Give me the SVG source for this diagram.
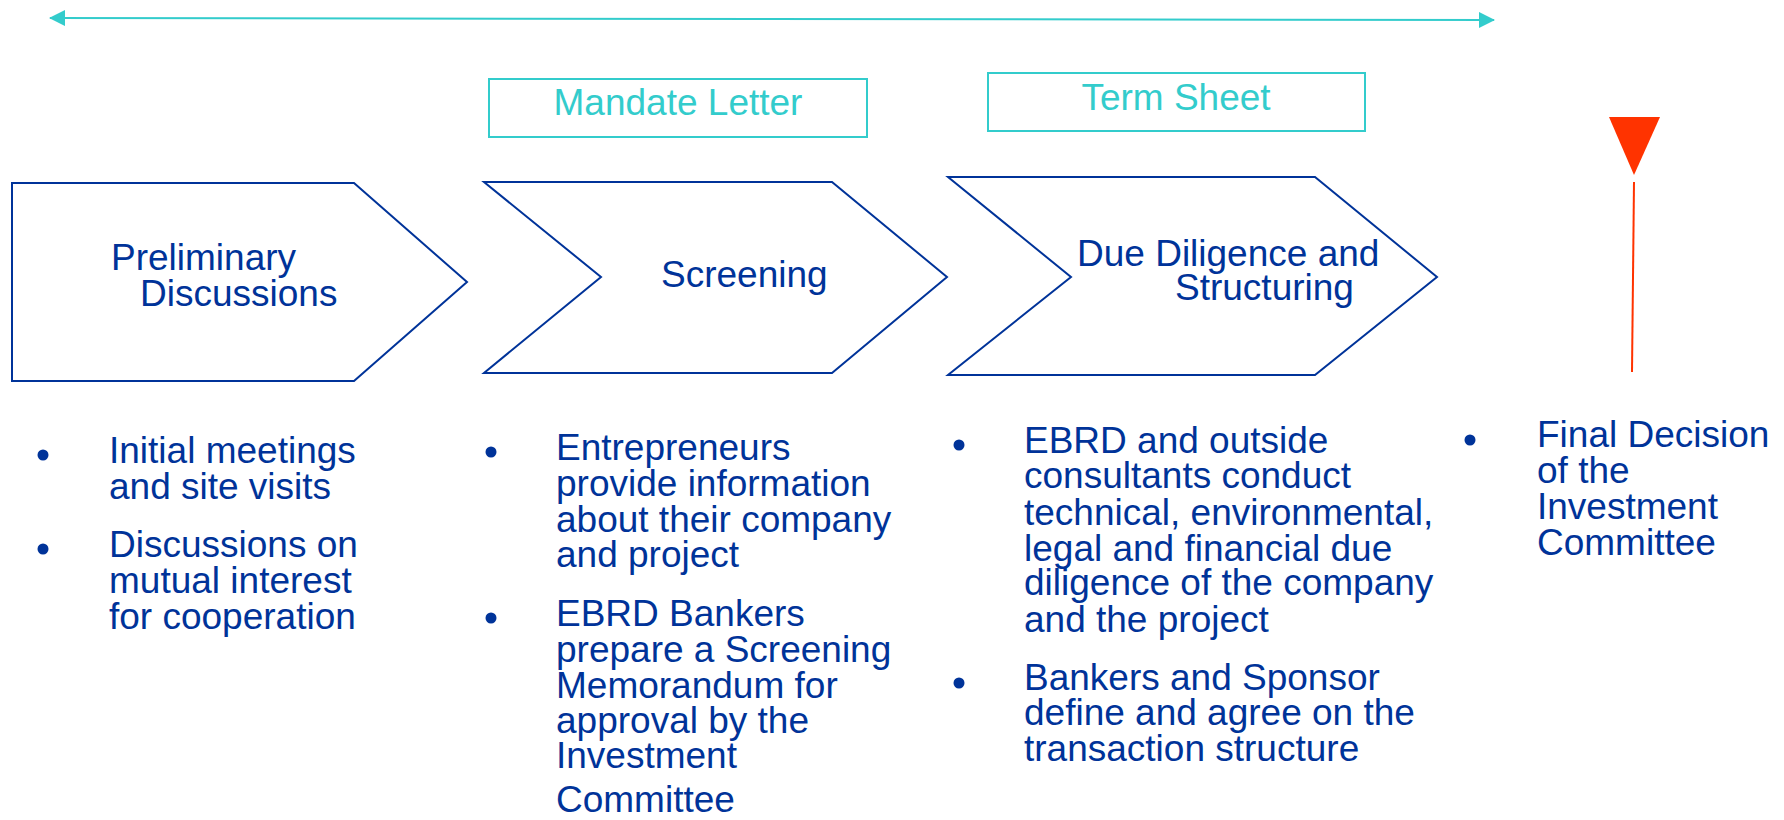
<svg xmlns="http://www.w3.org/2000/svg" width="1784" height="820" viewBox="0 0 1784 820">
<style>
.chev{fill:#FFFFFF;stroke:#003399;stroke-width:2}
.doc{fill:#FFFFFF;stroke:#33CCCC;stroke-width:2}
.t{font-family:"Liberation Sans",Arial,sans-serif;font-size:37px;fill:#003399}
.tl{font-family:"Liberation Sans",Arial,sans-serif;font-size:37px;fill:#33CCCC;text-anchor:middle}
.dot{fill:#003399}
</style>
<defs>
<marker id="ah" viewBox="0 0 16 16" refX="15" refY="8" markerWidth="16" markerHeight="16" markerUnits="userSpaceOnUse" orient="auto-start-reverse">
<path d="M0,0 L16,8 L0,16 Z" fill="#33CCCC"/>
</marker>
</defs>
<g id="connectors">
<line x1="50" y1="18" x2="1494" y2="20" stroke="#33CCCC" stroke-width="2" marker-start="url(#ah)" marker-end="url(#ah)"/>
<line x1="1634" y1="182" x2="1632" y2="372" stroke="#FF3300" stroke-width="2"/>
</g>
<g id="mandate-letter">
<rect class="doc" x="489" y="79" width="378" height="58"/>
<text class="tl" x="678" y="115">Mandate Letter</text>
</g>
<g id="term-sheet">
<rect class="doc" x="988" y="73" width="377" height="58"/>
<text class="tl" x="1176" y="110">Term Sheet</text>
</g>
<g id="preliminary">
<polygon class="chev" points="12,183 354,183 467,282 354,381 12,381"/>
<text class="t" x="111" y="270">Preliminary</text>
<text class="t" x="140" y="306">Discussions</text>
</g>
<g id="screening">
<polygon class="chev" points="484,182 832,182 947,277 832,373 484,373 601,277"/>
<text class="t" x="661" y="287">Screening</text>
</g>
<g id="due-diligence">
<polygon class="chev" points="948,177 1315,177 1437,277 1315,375 948,375 1071,277"/>
<text class="t" x="1077" y="266">Due Diligence and</text>
<text class="t" x="1175" y="300">Structuring</text>
</g>
<g id="final-decision-marker">
<polygon points="1609,117 1660,117 1634,175" fill="#FF3300"/>
</g>
<g id="list-preliminary">
<circle class="dot" cx="43" cy="455" r="5.5"/>
<text class="t" x="109" y="463">Initial meetings</text>
<text class="t" x="109" y="499">and site visits</text>
<circle class="dot" cx="43" cy="549" r="5.5"/>
<text class="t" x="109" y="557">Discussions on</text>
<text class="t" x="109" y="593">mutual interest</text>
<text class="t" x="109" y="629">for cooperation</text>
</g>
<g id="list-screening">
<circle class="dot" cx="491" cy="452" r="5.5"/>
<text class="t" x="556" y="460">Entrepreneurs</text>
<text class="t" x="556" y="496">provide information</text>
<text class="t" x="556" y="532">about their company</text>
<text class="t" x="556" y="567">and project</text>
<circle class="dot" cx="491" cy="618" r="5.5"/>
<text class="t" x="556" y="626">EBRD Bankers</text>
<text class="t" x="556" y="662">prepare a Screening</text>
<text class="t" x="556" y="698">Memorandum for</text>
<text class="t" x="556" y="733">approval by the</text>
<text class="t" x="556" y="768">Investment</text>
<text class="t" x="556" y="812">Committee</text>
</g>
<g id="list-due-diligence">
<circle class="dot" cx="959" cy="445" r="5.5"/>
<text class="t" x="1024" y="453">EBRD and outside</text>
<text class="t" x="1024" y="488">consultants conduct</text>
<text class="t" x="1024" y="525">technical, environmental,</text>
<text class="t" x="1024" y="561">legal and financial due</text>
<text class="t" x="1024" y="595">diligence of the company</text>
<text class="t" x="1024" y="632">and the project</text>
<circle class="dot" cx="959" cy="683" r="5.5"/>
<text class="t" x="1024" y="690">Bankers and Sponsor</text>
<text class="t" x="1024" y="725">define and agree on the</text>
<text class="t" x="1024" y="761">transaction structure</text>
</g>
<g id="list-final">
<circle class="dot" cx="1470" cy="440" r="5.5"/>
<text class="t" x="1537" y="447">Final Decision</text>
<text class="t" x="1537" y="483">of the</text>
<text class="t" x="1537" y="519">Investment</text>
<text class="t" x="1537" y="555">Committee</text>
</g>
</svg>
